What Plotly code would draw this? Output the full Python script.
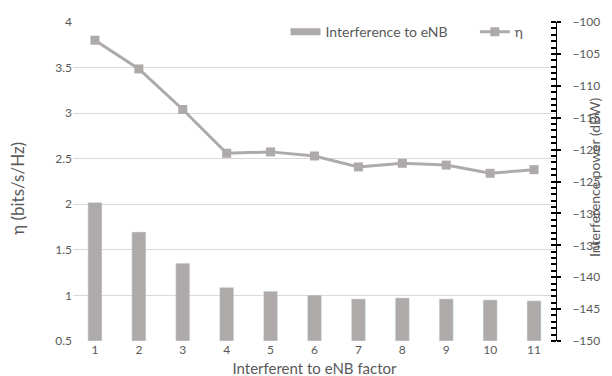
import plotly.graph_objects as go

factors = [1, 2, 3, 4, 5, 6, 7, 8, 9, 10, 11]
interference_dbw = [-128.3, -132.9, -137.8, -141.6, -142.2, -142.8, -143.4, -143.25, -143.4, -143.55, -143.7]
eta = [3.80, 3.485, 3.04, 2.56, 2.575, 2.53, 2.41, 2.45, 2.43, 2.34, 2.38]
left_ticks = [0.5, 1, 1.5, 2, 2.5, 3, 3.5, 4]
left_tick_text = ["0.5", "1", "1.5", "2", "2.5", "3", "3.5", "4"]

bar_base = -150
gray = "#aeaaa9"
txt = "#595959"
font_family = "Lato, 'Open Sans', sans-serif"

fig = go.Figure()
fig.add_trace(go.Bar(
    x=factors, y=[v - bar_base for v in interference_dbw], base=bar_base,
    name="Interference to eNB", marker_color=gray, width=0.32, yaxis="y2",
    showlegend=False,
))
# legend-only entry drawn as a wide flat swatch like the reference
fig.add_trace(go.Scatter(
    x=[None], y=[None], name="Interference to eNB", mode="lines",
    line=dict(color=gray, width=7), yaxis="y2", legend="legend",
))
fig.add_trace(go.Scatter(
    x=factors, y=eta, name="η", mode="lines+markers",
    line=dict(color=gray, width=3), marker=dict(symbol="square", size=9, color=gray),
    yaxis="y", legend="legend2",
))

legend_common = dict(orientation="h", yanchor="middle", font=dict(size=14, color=txt),
                     bgcolor="rgba(0,0,0,0)")

fig.update_layout(
    width=612, height=376,
    margin=dict(l=65, r=64, t=8, b=43),
    paper_bgcolor="white", plot_bgcolor="white",
    font=dict(family=font_family, color=txt, size=12),
    showlegend=True,
    legend=dict(x=0.44, y=0.968, xanchor="left", **legend_common),
    legend2=dict(x=0.832, y=0.968, xanchor="left", **legend_common),
    xaxis=dict(
        type="linear", range=[0.5, 11.5], tickmode="array", tickvals=factors,
        ticktext=[str(f) for f in factors], showgrid=False, zeroline=False,
        showline=False, ticks="", tickfont=dict(size=12, color=txt), automargin=False,
        title=dict(text="Interferent to eNB factor", font=dict(size=15, color=txt), standoff=7),
    ),
    yaxis=dict(
        range=[0.5, 4], tickmode="array", tickvals=left_ticks, ticktext=left_tick_text,
        showgrid=True, gridcolor="#d9d9d9", gridwidth=1, zeroline=False, showline=False,
        ticks="", tickfont=dict(size=12, color=txt), automargin=False,
    ),
    yaxis2=dict(
        range=[-150, -100], dtick=5, overlaying="y", side="right", showgrid=False,
        zeroline=False, showline=True, linecolor="black", linewidth=1,
        ticks="outside", ticklen=4, tickcolor="black", tickwidth=2,
        minor=dict(dtick=1, ticks="inside", ticklen=5, tickcolor="black", showgrid=False),
        ticklabelstandoff=9, automargin=False,
        tickfont=dict(size=12, color=txt),
    ),
    annotations=[
        dict(text="η (bits/s/Hz)", xref="paper", yref="paper", x=-0.114, y=0.48,
             textangle=-90, showarrow=False, xanchor="center", yanchor="middle",
             font=dict(size=17, color=txt)),
        dict(text="Interference power (dBW)", xref="paper", yref="paper", x=1.08, y=0.513,
             textangle=-90, showarrow=False, xanchor="center", yanchor="middle",
             font=dict(size=14, color=txt)),
    ],
)

fig.write_html("out.html")
